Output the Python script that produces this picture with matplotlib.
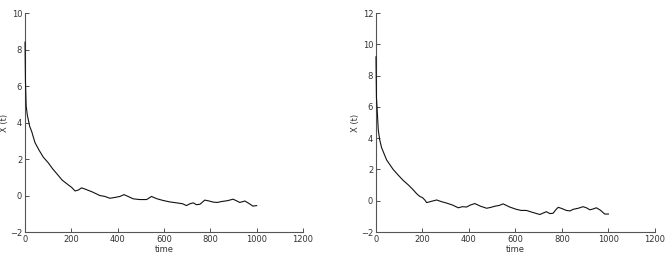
import numpy as np
import matplotlib.pyplot as plt

# Dados (esquerda e direita).
t_esq = [0, 1, 2, 5, 10, 20, 29, 43, 60, 79, 100, 120, 137, 160, 185, 201, 216, 230, 244,
         260, 290, 323, 345, 366, 390, 410, 427, 445, 467, 495, 525, 546, 570, 596, 625,
         654, 680, 697, 712, 726, 740, 755, 776, 795, 812, 830, 848, 875, 898, 915, 927,
         949, 965, 984, 1000]
x_esq = [8.4, 7.2, 6.2, 4.9, 4.4, 3.8, 3.5, 2.9, 2.5, 2.1, 1.8, 1.45, 1.2, 0.85, 0.6, 0.45,
         0.25, 0.3, 0.42, 0.35, 0.2, 0.0, -0.05, -0.15, -0.1, -0.05, 0.05, -0.05, -0.18,
         -0.22, -0.22, -0.05, -0.18, -0.27, -0.35, -0.4, -0.45, -0.55, -0.45, -0.4, -0.5,
         -0.48, -0.25, -0.3, -0.36, -0.38, -0.33, -0.28, -0.2, -0.3, -0.38, -0.3, -0.42,
         -0.58, -0.55]

t_dir = [0, 1, 2, 6, 10, 16, 24, 35, 46, 60, 74, 95, 117, 140, 160, 175, 189, 200, 210,
         218, 235, 261, 280, 304, 330, 354, 372, 390, 405, 425, 450, 476, 495, 511, 530,
         547, 575, 604, 625, 647, 675, 705, 720, 733, 748, 762, 775, 784, 800, 819, 835,
         848, 870, 891, 905, 920, 935, 948, 965, 984, 1000]
x_dir = [9.2, 7.8, 6.6, 5.6, 4.5, 3.9, 3.4, 3.0, 2.6, 2.3, 2.0, 1.65, 1.3, 1.0, 0.7, 0.45,
         0.27, 0.2, 0.05, -0.12, -0.05, 0.05, -0.05, -0.15, -0.28, -0.45, -0.38, -0.4,
         -0.28, -0.18, -0.35, -0.48, -0.42, -0.35, -0.3, -0.2, -0.4, -0.55, -0.62, -0.62,
         -0.75, -0.88, -0.78, -0.7, -0.82, -0.8, -0.55, -0.42, -0.5, -0.62, -0.65, -0.55,
         -0.48, -0.38, -0.45, -0.58, -0.52, -0.45, -0.6, -0.85, -0.85]

fig = plt.figure(figsize=(6.69, 2.61), dpi=100)
ax1 = fig.add_axes([0.0374, 0.111, 0.4155, 0.839])
ax2 = fig.add_axes([0.562, 0.111, 0.417, 0.839])

cor = '#333333'
for ax, t, x, ymax in [(ax1, t_esq, x_esq, 10), (ax2, t_dir, x_dir, 12)]:
    # linha por cima do eixo, para o pico inicial aparecer
    ax.plot(t, x, color='#111111', lw=0.8, zorder=3, clip_on=False)
    ax.set_xlim(0, 1200)
    ax.set_ylim(-2, ymax)
    ax.set_xticks(np.arange(0, 1201, 200))
    ax.set_yticks(np.arange(-2, ymax + 1, 2))
    ax.spines['top'].set_visible(False)
    ax.spines['right'].set_visible(False)
    ax.spines['left'].set_color('#555555')
    ax.spines['bottom'].set_color('#555555')
    ax.spines['left'].set_linewidth(0.8)
    ax.spines['bottom'].set_linewidth(0.8)
    ax.tick_params(direction='in', length=3, width=0.6, labelsize=6,
                   colors=cor, pad=2)
    ax.set_xlabel('time', fontsize=6, color=cor, labelpad=1)
    ax.set_ylabel('X (t)', fontsize=6, color=cor, labelpad=0.5)

plt.savefig('out.png', dpi=100)
